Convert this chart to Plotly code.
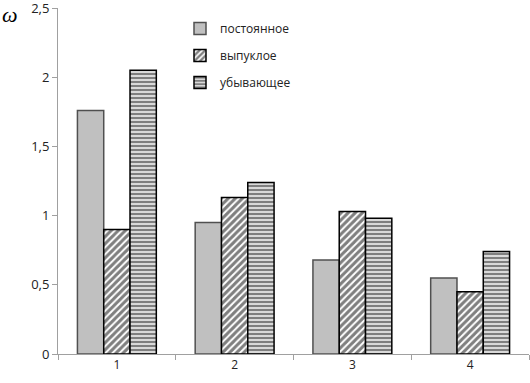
import plotly.graph_objects as go

categories = ["1", "2", "3", "4"]
series_names = ["постоянное", "выпуклое", "убывающее"]
postoyannoe = [1.76, 0.95, 0.68, 0.55]
vypukloe = [0.90, 1.13, 1.03, 0.45]
ubyvayushchee = [2.05, 1.24, 0.98, 0.74]
y_tickvals = [0, 0.5, 1, 1.5, 2, 2.5]
y_ticktext = ["0", "0,5", "1", "1,5", "2", "2,5"]

fig = go.Figure()
fig.add_trace(go.Bar(
    x=categories, y=postoyannoe, name=series_names[0],
    marker=dict(color="#c0c0c0", line=dict(color="#505050", width=1.5)),
    legendgroup="a",
))
fig.add_trace(go.Bar(
    x=categories, y=vypukloe, name=series_names[1],
    marker=dict(color="white", line=dict(color="black", width=1.5),
                pattern=dict(shape="/", fgcolor="black", bgcolor="white", size=5, solidity=0.6)),
    legendgroup="b",
))
fig.add_trace(go.Bar(
    x=categories, y=ubyvayushchee, name=series_names[2],
    marker=dict(color="white", line=dict(color="black", width=1.5),
                pattern=dict(shape="-", fgcolor="black", bgcolor="white", size=4, solidity=0.65)),
    legendgroup="c",
))

L, R, T, B = 58, 1, 8, 29
W, H = 530, 383
pw, ph = W - L - R, H - T - B

fig.update_layout(
    width=W, height=H,
    margin=dict(l=L, r=R, t=T, b=B, autoexpand=False),
    paper_bgcolor="white", plot_bgcolor="white",
    barmode="group", bargap=0.33, bargroupgap=0,
    font=dict(family="Open Sans, Liberation Sans, sans-serif", size=12, color="#222222"),
    legend=dict(x=(180 - L) / pw, y=1 - (14 - T) / ph,
                xanchor="left", yanchor="top", bgcolor="rgba(0,0,0,0)",
                font=dict(size=12), tracegroupgap=8, itemwidth=30),
    xaxis=dict(type="category", showgrid=False, showline=True, linecolor="#a0a0a0", linewidth=1,
               ticks="outside", tickson="boundaries", ticklen=5, tickcolor="#a0a0a0",
               tickfont=dict(size=12), automargin=False),
    yaxis=dict(range=[0, 2.5], tickvals=y_tickvals, ticktext=y_ticktext, showgrid=False,
               showline=True, linecolor="#a0a0a0", linewidth=1, ticks="outside", ticklen=5,
               tickcolor="#a0a0a0", tickfont=dict(size=13), zeroline=False, automargin=False,
               ticklabeloverflow="allow"),
    annotations=[dict(text="<i>ω</i>", xref="paper", yref="paper",
                      x=(0 - L) / pw, y=1 - (0 - T) / ph, xanchor="left", yanchor="top",
                      showarrow=False,
                      font=dict(family="Liberation Serif, serif", size=22, color="black"))],
)

fig.write_html("out.html", post_script="document.body.style.margin='0';",
               config={"displayModeBar": False})
